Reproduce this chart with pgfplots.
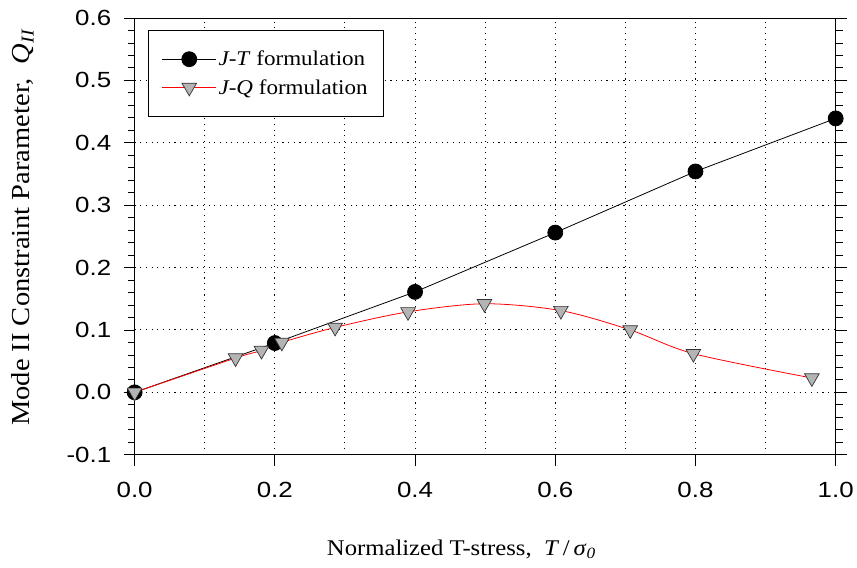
\documentclass[border=0pt]{standalone}
\usepackage{fontspec}
\setmainfont[FakeStretch=1.1]{Liberation Serif}
\newfontfamily\arial[FakeStretch=1.18]{Liberation Sans}
\usepackage{pgfplots}
\pgfplotsset{compat=1.18}
\definecolor{TriGray}{HTML}{B4B4B4}

\pgfplotstableread{
x y
0.0 0.000
0.2 0.079
0.4 0.161
0.6 0.256
0.8 0.354
1.0 0.439
}\jtdata

\pgfplotstableread{
x y
0.000 0.000
0.144 0.055
0.181 0.067
0.210 0.080
0.286 0.104
0.390 0.129
0.499 0.142
0.608 0.131
0.707 0.100
0.797 0.062
0.966 0.023
}\jqdata

\begin{document}
\begin{tikzpicture}
\begin{axis}[
  width=703pt, height=438pt, scale only axis,
  xmin=0, xmax=1, ymin=-0.1, ymax=0.6,
  xtick={0,0.2,...,1.0},
  ytick={-0.1,0,...,0.6},
  minor y tick num=4,
  /pgf/number format/fixed,
  /pgf/number format/fixed zerofill,
  /pgf/number format/precision=1,
  /pgf/number format/assume math mode=true,
  tick label style={font=\arial\fontsize{22}{26}\selectfont},
  xticklabel style={yshift=-13pt},
  yticklabel style={xshift=-9pt},
  tick align=outside,
  xtick pos=bottom, ytick pos=both,
  major tick length=11pt, minor tick length=7pt,
  every tick/.style={black, line width=0.8pt},
  axis line style={line width=0.8pt},
  xmajorgrids, ymajorgrids,
  grid style={black, line width=0.9pt, dash pattern=on 1.1pt off 4.6pt},
  extra x ticks={0.1,0.3,0.5,0.7,0.9},
  extra x tick labels={},
  extra x tick style={major tick length=0pt, grid=major},
  xlabel={Normalized T-stress,\ \ \textit{T}\,/\,\textit{σ}\textsubscript{\textit{0}}},
  ylabel={Mode II Constraint Parameter,\ \ \textit{Q}\textsubscript{\textit{II}}},
  xlabel style={at={(axis description cs:0.466,-0.2306)}, anchor=base,
    font=\fontsize{22.5}{26}\selectfont},
  ylabel style={at={(axis description cs:-0.1494,0.5205)}, anchor=base,
    font=\fontsize{26}{30}\selectfont},
  legend cell align=left,
  legend style={at={(0.0185,0.973)}, anchor=north west, draw=black, line width=0.8pt,
    font=\fontsize{21}{25}\selectfont, inner xsep=14pt, inner ysep=19pt,
    row sep=8pt},
  legend image code/.code={%
    \draw[mark repeat=2,mark phase=2,#1] plot coordinates {(0pt,0pt) (27pt,0pt) (54pt,0pt)};},
  after end axis/.code={%
    \path (rel axis cs:-0.19203,-0.25799) rectangle (rel axis cs:1.02703,1.04110);},
]
\addplot[black, line width=0.8pt, mark=*, mark size=7.5pt,
  mark options={fill=black}] table {\jtdata};
\addlegendentry{\textit{J-T} formulation}
\addplot[red, line width=0.8pt, smooth, tension=0.5, mark=triangle*, mark size=8.5pt,
  mark options={fill=TriGray, draw=black!80, rotate=180, line width=0.7pt}] table {\jqdata};
\addlegendentry{\textit{J-Q} formulation}
\end{axis}
\end{tikzpicture}
\end{document}
